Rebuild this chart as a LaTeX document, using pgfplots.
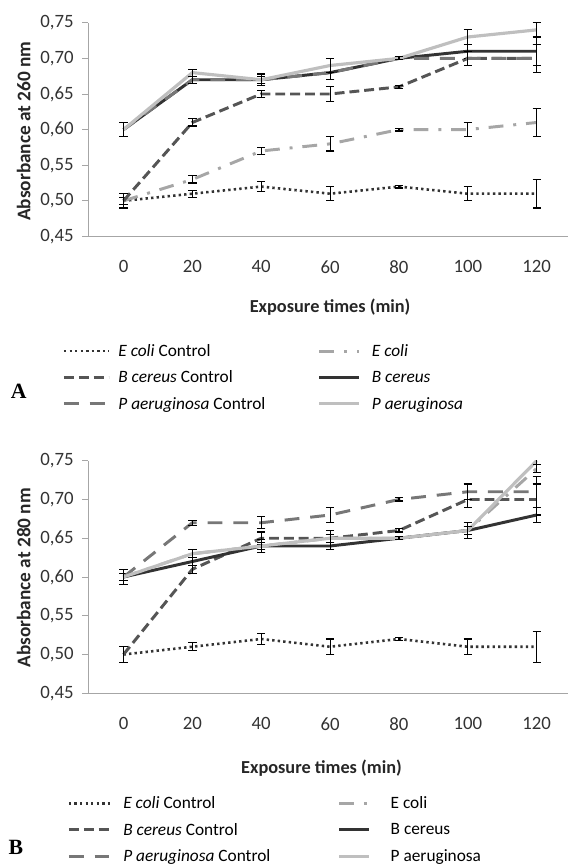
\documentclass[border=0pt]{standalone}
\usepackage{pgfplots}
\pgfplotsset{compat=1.18}
\usepackage{fontspec}
\setmainfont{Carlito}
\newfontfamily\serifbold{Liberation Serif}
\definecolor{cEcC}{HTML}{333333}
\definecolor{cBcC}{HTML}{555555}
\definecolor{cPaC}{HTML}{777777}
\definecolor{cEc}{HTML}{A6A6A6}
\definecolor{cBc}{HTML}{333333}
\definecolor{cPa}{HTML}{BFBFBF}
\pgfplotsset{
  common/.style={
    scale only axis, width=485.5pt,
    xmin=-10.3, xmax=129.2, ymin=0.45, ymax=0.75,
    xtick={0,20,...,120}, ytick={0.45,0.50,...,0.751},
    axis lines*=left, axis line style={draw=gray!70, line width=0.9pt},
    tick align=outside, major tick length=6pt,
    xtick style={draw=none}, ytick style={draw=gray!70, line width=0.9pt},
    tick label style={font=\fontsize{19}{21}\selectfont, text=black!80},
    /pgf/number format/assume math mode=true,
    yticklabel style={/pgf/number format/use comma, /pgf/number format/fixed, /pgf/number format/fixed zerofill, /pgf/number format/precision=2},
    xticklabel style={yshift=-15pt},
    xlabel={\textbf{Exposure times (min)}},
    xlabel style={font=\fontsize{18.5}{20}\selectfont, text=black!85, anchor=center},
    ylabel style={font=\fontsize{19.5}{21}\selectfont, text=black!85, anchor=center, rotate=0},
    legend columns=2,
    legend cell align=left,
    legend style={draw=none, fill=none, inner sep=0pt, font=\fontsize{17.5}{19}\selectfont, row sep=9pt,
      nodes={inner xsep=0pt}},
    error bars/y dir=both, error bars/y explicit,
    error bars/error bar style={black, line width=1.1pt, solid},
    error bars/error mark options={rotate=90, mark size=4.2pt, black, line width=1.1pt, solid},
  },
  sEcC/.style={cEcC, line width=2.6pt, dash pattern=on 2.4pt off 3.2pt},
  sBcC/.style={cBcC, line width=3pt, dash pattern=on 10pt off 5pt},
  sPaC/.style={cPaC, line width=3pt, dash pattern=on 15pt off 11pt},
  sEc/.style={cEc, line width=3pt, dash pattern=on 15pt off 10pt on 3pt off 10pt},
  sBc/.style={cBc, line width=3pt},
  sPa/.style={cPa, line width=3.2pt},
}
\begin{document}
\begin{tikzpicture}
\path (0pt,0pt) rectangle (574pt,865pt);
% ---------------- A ----------------
\begin{axis}[common, at={(89pt,626pt)}, anchor=south west, height=216pt,
  ylabel={\textbf{Absorbance at 260 nm}},
  ylabel style={at={(axis description cs:-0.134,0.493)}},
  yticklabel style={xshift=-5pt},
  xlabel style={at={(axis description cs:0.504,-0.333)}},
  legend style={at={(axis description cs:-0.0536,-0.495)}, anchor=north west,
     /tikz/every even column/.append style={column sep=53pt}},
  c1/.style={legend image code/.code={\path[draw=none,fill=none] (0pt,0pt) -- (55pt,0pt); \draw[##1] (0pt,0pt) -- (45pt,0pt);}},
  c2/.style={legend image code/.code={\path[draw=none,fill=none] (0pt,0pt) -- (53pt,0pt); \draw[##1] (0pt,0pt) -- (40pt,0pt);}},
  ]
\addplot[sEcC, c1] table[y error=e] {
x y e
0 0.50 0.01
20 0.51 0.005
40 0.52 0.007
60 0.51 0.01
80 0.52 0.002
100 0.51 0.01
120 0.51 0.02
};
\addlegendentry{\textit{E coli} Control}
\addplot[sEc, c2] table[y error=e] {
x y e
0 0.50 0.005
20 0.53 0.005
40 0.57 0.005
60 0.58 0.01
80 0.60 0.002
100 0.60 0.01
120 0.61 0.02
};
\addlegendentry{\textit{E coli}}
\addplot[sBcC, c1] table[y error=e] {
x y e
0 0.50 0.01
20 0.61 0.005
40 0.65 0.005
60 0.65 0.01
80 0.66 0.002
100 0.70 0.01
120 0.70 0.02
};
\addlegendentry{\textit{B cereus} Control}
\addplot[sBc, c2] table[y error=e] {
x y e
0 0.60 0.01
20 0.67 0.005
40 0.67 0.005
60 0.68 0.01
80 0.70 0.002
100 0.71 0.01
120 0.71 0.02
};
\addlegendentry{\textit{B cereus}}
\addplot[sPaC, c1] table[y error=e] {
x y e
0 0.60 0.01
20 0.67 0.005
40 0.67 0.005
60 0.68 0.01
80 0.70 0.002
100 0.70 0.01
120 0.70 0.02
};
\addlegendentry{\textit{P aeruginosa} Control}
\addplot[sPa, c2] table[y error=e] {
x y e
0 0.60 0.01
20 0.68 0.005
40 0.67 0.008
60 0.69 0.01
80 0.70 0.002
100 0.73 0.01
120 0.74 0.01
};
\addlegendentry{\textit{P aeruginosa}}
\end{axis}
% ---------------- B ----------------
\begin{axis}[common, at={(89pt,164.3pt)}, anchor=south west, height=235pt,
  ylabel={\textbf{Absorbance at 280 nm}},
  ylabel style={at={(axis description cs:-0.134,0.497)}},
  yticklabel style={xshift=-5pt},
  xlabel style={at={(axis description cs:0.486,-0.321)}},
  legend style={at={(axis description cs:-0.0433,-0.436)}, anchor=north west,
     /tikz/every even column/.append style={column sep=68pt}},
  c1/.style={legend image code/.code={\path[draw=none,fill=none] (0pt,0pt) -- (55pt,0pt); \draw[##1] (0pt,0pt) -- (42pt,0pt);}},
  c2/.style={legend image code/.code={\path[draw=none,fill=none] (0pt,0pt) -- (52pt,0pt); \draw[##1] (0pt,0pt) -- (30pt,0pt);}},
  ]
\addplot[sEcC, c1] table[y error=e] {
x y e
0 0.50 0.01
20 0.51 0.005
40 0.52 0.007
60 0.51 0.01
80 0.52 0.002
100 0.51 0.01
120 0.51 0.02
};
\addlegendentry{\textit{E coli} Control}
\addplot[sEc, c2] table[y error=e] {
x y e
0 0.60 0.005
20 0.63 0.005
40 0.64 0.005
60 0.65 0.005
80 0.65 0.002
100 0.66 0.005
120 0.74 0.005
};
\addlegendentry{E coli}
\addplot[sBcC, c1] table[y error=e] {
x y e
0 0.50 0.01
20 0.61 0.005
40 0.65 0.008
60 0.65 0.01
80 0.66 0.002
100 0.70 0.01
120 0.70 0.02
};
\addlegendentry{\textit{B cereus} Control}
\addplot[sBc, c2] table[y error=e] {
x y e
0 0.60 0.01
20 0.62 0.005
40 0.64 0.008
60 0.64 0.005
80 0.65 0.002
100 0.66 0.01
120 0.68 0.01
};
\addlegendentry{B cereus}
\addplot[sPaC, c1] table[y error=e] {
x y e
0 0.60 0.01
20 0.67 0.003
40 0.67 0.008
60 0.68 0.01
80 0.70 0.002
100 0.71 0.01
120 0.71 0.02
};
\addlegendentry{\textit{P aeruginosa} Control}
\addplot[sPa, c2] table[y error=e] {
x y e
0 0.60 0.01
20 0.63 0.005
40 0.64 0.008
60 0.65 0.005
80 0.65 0.002
100 0.66 0.005
120 0.75 0.005
};
\addlegendentry{P aeruginosa}
\end{axis}
\node[font=\serifbold\bfseries\fontsize{22}{24}\selectfont, anchor=center] at (19pt,{865pt-396pt}) {A};
\node[font=\serifbold\bfseries\fontsize{22}{24}\selectfont, anchor=center] at (16pt,{865pt-857pt}) {B};
\end{tikzpicture}
\end{document}
